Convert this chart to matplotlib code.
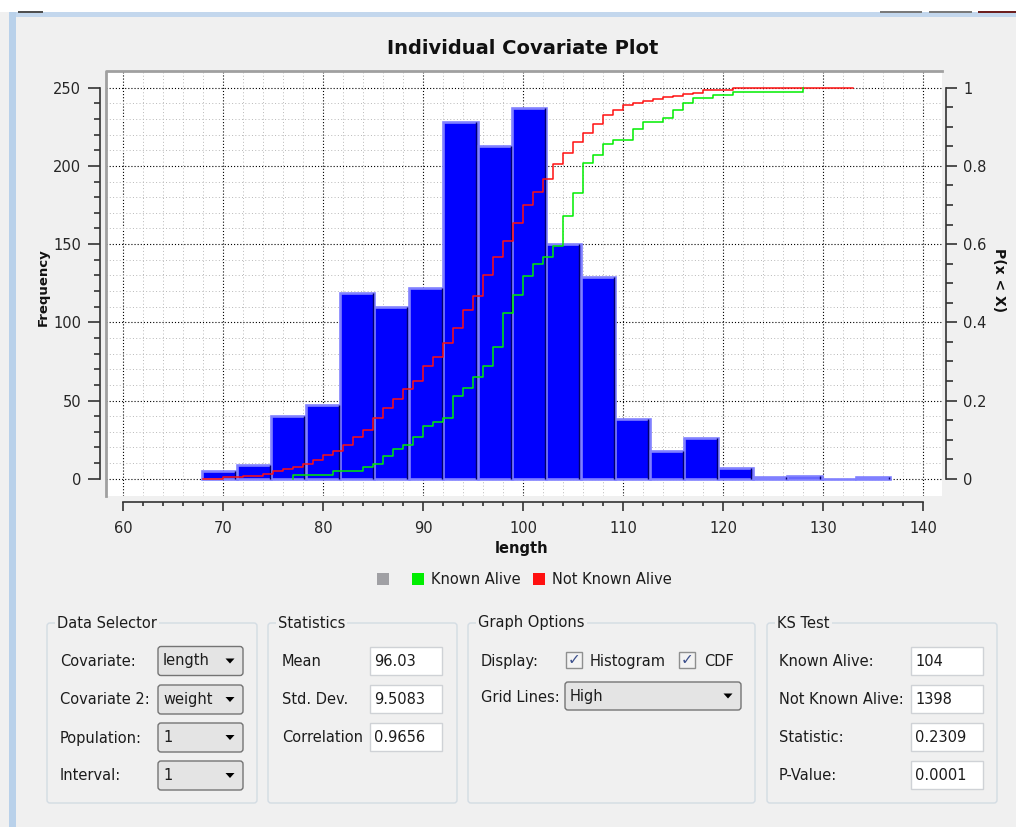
import matplotlib
matplotlib.use("Agg")
import matplotlib.pyplot as plt
import numpy as np
from matplotlib.patches import Rectangle, FancyBboxPatch, Polygon

plt.rcParams['font.family'] = 'DejaVu Sans'

# histogram of length (20 bins)
bin_start = 67.9
bin_width = 3.44
counts = [5, 9, 40, 47, 119, 110, 122, 228, 213, 237,
          150, 129, 38, 18, 26, 7, 1, 2, 0, 1]

# empirical CDF, Not Known Alive (step points)
nka_x = [68, 70, 72, 74, 75, 76, 77, 78, 79, 80, 81, 82, 83, 84, 85, 86, 87,
         88, 89, 90, 91, 92, 93, 94, 95, 96, 97, 98, 99, 100, 101, 102, 103,
         104, 105, 106, 107, 108, 109, 110, 111, 112, 113, 114, 115, 116, 117,
         118, 121, 127, 133]
nka_p = [0.0, 0.004, 0.007, 0.012, 0.019, 0.024, 0.031, 0.038, 0.048, 0.060,
         0.072, 0.087, 0.107, 0.125, 0.155, 0.180, 0.204, 0.229, 0.250, 0.287,
         0.312, 0.346, 0.385, 0.432, 0.467, 0.521, 0.566, 0.608, 0.653, 0.699,
         0.733, 0.767, 0.804, 0.834, 0.861, 0.884, 0.907, 0.929, 0.943, 0.955,
         0.960, 0.966, 0.971, 0.975, 0.980, 0.984, 0.986, 0.994, 0.998, 1.0,
         1.0]

# empirical CDF, Known Alive
ka_x = [77, 77, 81, 84, 85, 86, 87, 88, 89, 90, 91, 92, 93, 94, 95, 96, 97,
        98, 99, 100, 101, 102, 103, 104, 105, 106, 107, 108, 109, 111, 112,
        114, 115, 116, 117, 119, 121, 128]
ka_p = [0.0, 0.0096, 0.019, 0.029, 0.038, 0.058, 0.077, 0.087, 0.106, 0.135,
        0.144, 0.154, 0.212, 0.231, 0.260, 0.288, 0.337, 0.423, 0.471, 0.519,
        0.548, 0.567, 0.596, 0.673, 0.731, 0.808, 0.827, 0.856, 0.865, 0.894,
        0.913, 0.923, 0.942, 0.962, 0.974, 0.981, 0.990, 1.0]

x_ticks = np.arange(60, 141, 10)
freq_ticks = np.arange(0, 251, 50)
p_ticks = [0, 0.2, 0.4, 0.6, 0.8, 1]
p_labels = ['0', '0.2', '0.4', '0.6', '0.8', '1']

col_ka = '#00ee00'
col_nka = '#ff1010'
col_bar = '#0000ff'
txt = '#1c1c1c'
axc = '#333333'

W, H = 1016, 827
fig = plt.figure(figsize=(W / 100, H / 100), dpi=100, facecolor='#f0f0f0')

# background layer in pixel coordinates (y down)
bg = fig.add_axes([0, 0, 1, 1], zorder=0)
bg.set_xlim(0, W)
bg.set_ylim(H, 0)
bg.axis('off')

bg.add_patch(Rectangle((0, 0), W, 12, fc='white', ec='none'))
bg.add_patch(Rectangle((9, 12), W - 9, 5, fc='#c3d7ed', ec='none'))
bg.add_patch(Rectangle((9, 12), 7, H - 12, fc='#b9d1ea', ec='none'))
bg.add_patch(Rectangle((18, 11), 25, 2, fc='#505050', ec='none'))
bg.add_patch(Rectangle((880, 11), 42, 2, fc='#7a7a7a', ec='none'))
bg.add_patch(Rectangle((929, 11), 43, 2, fc='#7a7a7a', ec='none'))
bg.add_patch(Rectangle((978, 11), 38, 2, fc='#6d1f1f', ec='none'))

bg.text(523, 48, 'Individual Covariate Plot', ha='center', va='center',
        fontsize=14, fontweight='bold', color='#111111')

# plot canvas
x0, y0, x1, y1 = 105.5, 71, 942, 496
ax = fig.add_axes([x0 / W, 1 - y1 / H, (x1 - x0) / W, (y1 - y0) / H], zorder=1)
ax.set_facecolor('white')
ax.set_xlim(58.22, 141.87)
ax.set_ylim(-11.06, 260.68)

edges = bin_start + bin_width * np.arange(len(counts) + 1)
ax.bar(edges[:-1], counts, width=bin_width, align='edge', color=col_bar,
       edgecolor='#8080ff', linewidth=1.9, zorder=2)
ax.vlines(edges[1:] - 0.14, 0, counts, colors='#00006e', lw=1, zorder=3)

ax.set_axisbelow(True)
ax.set_xticks(x_ticks)
ax.set_xticks(np.arange(60, 141, 2), minor=True)
ax.set_yticks(freq_ticks)
ax.set_yticks(np.arange(0, 251, 10), minor=True)
ax.grid(which='major', color='black', linestyle=(0, (1, 1.8)), lw=0.8)
ax.grid(which='minor', color='#b8b8b8', linestyle=(0, (1, 2.4)), lw=0.7)

for s in ['top', 'right']:
    ax.spines[s].set_visible(False)
ax.spines['left'].set_position(('outward', 4))
ax.spines['left'].set_bounds(0, 250)
ax.spines['bottom'].set_position(('outward', 4.3))
ax.spines['bottom'].set_bounds(60, 140)
for s in ['left', 'bottom']:
    ax.spines[s].set_color(axc)
    ax.spines[s].set_linewidth(1.2)

ax.tick_params(axis='y', which='major', length=8.5, width=1.2, color=axc,
               pad=5, labelsize=10.5, labelcolor='#262626')
ax.tick_params(axis='y', which='minor', length=4, width=1.2, color=axc)
ax.tick_params(axis='x', which='major', length=6.5, width=1.2, color=axc,
               pad=7.5, labelsize=10.5, labelcolor='#262626')
ax.tick_params(axis='x', which='minor', length=3.2, width=1.2, color=axc)

# sunken frame of the canvas
ax.plot([0, 0, 1], [0, 1, 1], transform=ax.transAxes, clip_on=False,
        color='#a0a0a0', lw=2, zorder=5)

# CDF on the right axis
ax2 = ax.twinx()
ax2.set_zorder(2)
ax2.set_ylim(-11.06 / 250, 260.68 / 250)
ax2.step(nka_x, nka_p, where='post', color=col_nka, lw=1.1)
ax2.step(ka_x, ka_p, where='post', color=col_ka, lw=1.1)
for s in ['top', 'left', 'bottom']:
    ax2.spines[s].set_visible(False)
ax2.spines['right'].set_position(('outward', 3))
ax2.spines['right'].set_bounds(0, 1)
ax2.spines['right'].set_color(axc)
ax2.spines['right'].set_linewidth(1.2)
ax2.set_yticks(p_ticks)
ax2.set_yticklabels(p_labels)
ax2.set_yticks(np.arange(0, 1.001, 0.05), minor=True)
ax2.tick_params(axis='y', which='major', length=8, width=1.2, color=axc,
                pad=4.3, labelsize=10.5, labelcolor='#262626')
ax2.tick_params(axis='y', which='minor', length=5, width=1.2, color=axc)

# axis titles
bg.text(43, 287, 'Frequency', rotation=90, ha='center', va='center',
        fontsize=9.5, fontweight='bold', color='#111111')
bg.text(999, 280, 'P(x < X)', rotation=270, ha='center', va='center',
        fontsize=10, fontweight='bold', color='#111111')
bg.text(522, 549, 'length', ha='center', va='center',
        fontsize=10.5, fontweight='bold', color='#111111')

# legend
bg.add_patch(Rectangle((377, 573), 12, 12, fc='#a0a0a4', ec='none'))
bg.add_patch(Rectangle((412, 573), 12, 12, fc=col_ka, ec='none'))
bg.text(431, 579, 'Known Alive', ha='left', va='center', fontsize=10.5, color=txt)
bg.add_patch(Rectangle((533, 573), 12, 12, fc=col_nka, ec='none'))
bg.text(552, 579, 'Not Known Alive', ha='left', va='center', fontsize=10.5, color=txt)


# control panel
def group_box(gx0, gy0, gx1, gy1, title):
    bg.add_patch(FancyBboxPatch((gx0, gy0), gx1 - gx0, gy1 - gy0,
                                boxstyle='round,pad=0,rounding_size=3',
                                fc='none', ec='#d3dce3', lw=1))
    bg.text(gx0 + 10, gy0, title, ha='left', va='center', fontsize=10.5,
            color=txt, bbox=dict(fc='#f0f0f0', ec='none', pad=1.5))


def label(lx, ly, s):
    bg.text(lx, ly, s, ha='left', va='center', fontsize=10.5, color=txt)


def combo(cx0, cy0, cx1, cy1, s):
    bg.add_patch(FancyBboxPatch((cx0, cy0), cx1 - cx0, cy1 - cy0,
                                boxstyle='round,pad=0,rounding_size=3',
                                fc='#e4e4e4', ec='#747474', lw=1))
    cy = (cy0 + cy1) / 2
    label(cx0 + 5, cy, s)
    ax_ = cx1 - 13
    bg.add_patch(Polygon([(ax_ - 4.5, cy - 2.5), (ax_ + 4.5, cy - 2.5), (ax_, cy + 2.5)],
                         closed=True, fc='black', ec='none'))


def field(fx0, fy0, fx1, fy1, s):
    bg.add_patch(Rectangle((fx0, fy0), fx1 - fx0, fy1 - fy0, fc='white',
                           ec='#cfd2d6', lw=1))
    label(fx0 + 4, (fy0 + fy1) / 2 + 1, s)


def checkbox(bx, by, size=16):
    bg.add_patch(Rectangle((bx, by), size, size, fc='#f3f3f3', ec='#8e8f8f', lw=1))
    bg.text(bx + size / 2, by + size / 2, '\u2713', ha='center', va='center',
            fontsize=11, color='#3c4f8c')


rows = [661.5, 700, 738, 776]

group_box(47, 623, 257, 803, 'Data Selector')
for y, name, val in zip(rows, ['Covariate:', 'Covariate 2:', 'Population:', 'Interval:'],
                        ['length', 'weight', '1', '1']):
    label(60, y, name)
    combo(158, y - 15, 243, y + 14, val)

group_box(268, 623, 457, 803, 'Statistics')
for y, name, val in zip(rows, ['Mean', 'Std. Dev.', 'Correlation'],
                        ['96.03', '9.5083', '0.9656']):
    label(282, y, name)
    field(370, y - 15, 442, y + 13, val)

group_box(468, 623, 755, 803, 'Graph Options')
label(481, rows[0], 'Display:')
checkbox(566, 652)
label(590, rows[0], 'Histogram')
checkbox(679, 652)
label(704, rows[0], 'CDF')
label(481, 697, 'Grid Lines:')
combo(565, 682, 741, 710, 'High')

group_box(767, 623, 997, 803, 'KS Test')
for y, name, val in zip(rows, ['Known Alive:', 'Not Known Alive:', 'Statistic:', 'P-Value:'],
                        ['104', '1398', '0.2309', '0.0001']):
    label(779, y, name)
    field(911, y - 15, 983, y + 13, val)

fig.savefig('out.png', dpi=100, facecolor=fig.get_facecolor())
